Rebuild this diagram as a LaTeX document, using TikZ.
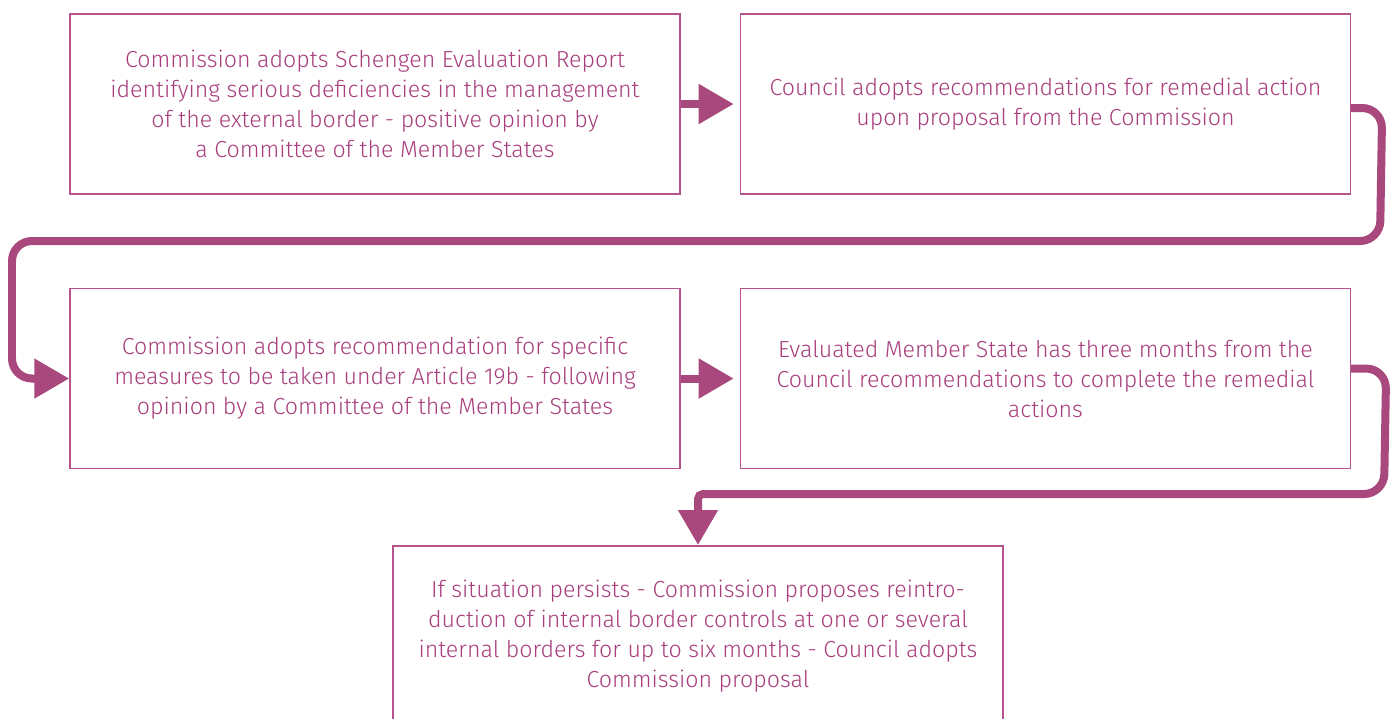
\documentclass[tikz,border=0pt]{standalone}
\usepackage{fontspec}
\setmainfont{Fira Sans Light}
\usepackage{tikz}
\usetikzlibrary{positioning, arrows.meta}
\definecolor{boxpink}{RGB}{182,84,142}
\definecolor{arrowpink}{RGB}{168,72,124}
\definecolor{textpink}{RGB}{168,62,124}

\begin{document}
\begin{tikzpicture}[
  x=0.02cm, y=-0.02cm,
  node distance=1.18cm,
  stepbox/.style={rectangle, draw=boxpink, line width=0.9pt, fill=white,
              minimum width=12.2cm, minimum height=3.6cm, text width=12cm,
              align=flush center, text=textpink, inner sep=0pt,
              font=\fontsize{13.2}{17.07}\selectfont},
  arr/.style={-{Triangle[length=0.7cm, width=0.76cm]}, line width=0.16cm,
              color=arrowpink},
]
  \useasboundingbox (0,0) rectangle (1391,718);

  \node[stepbox] (report) at (375,104)
    {Commission adopts Schengen Evaluation Report\\identifying serious deficiencies in the management\\of the external border - positive opinion by\\a Committee of the Member States};
  \node[stepbox, right=of report] (council)
    {Council adopts recommendations for remedial action\\upon proposal from the Commission};
  \node[stepbox, below=1.86cm of report] (measures)
    {Commission adopts recommendation for specific\\measures to be taken under Article 19b - following\\opinion by a Committee of the Member States};
  \node[stepbox, below=1.86cm of council] (months)
    {Evaluated Member State has three months from the\\Council recommendations to complete the remedial\\actions};
  \node[stepbox, anchor=north] (controls) at (698,545)
    {If situation persists - Commission proposes reintro-\\duction of internal border controls at one or several\\internal borders for up to six months - Council adopts\\Commission proposal};

  \draw[arr, shorten >=0.12cm] (report) -- (council);
  \draw[arr, rounded corners=0.4cm] ([yshift=-0.08cm]council.east) -- ++(31,0)
    -- (1380,241) -- (12,241) |- (measures.west);
  \draw[arr, shorten >=0.12cm] (measures) -- (months);
  \draw[arr, rounded corners=0.4cm] ([yshift=0.2cm]months.east) -- ++(35,0)
    -- (1384,494) [rounded corners=0.1cm] -- (698,494) -- (controls.north);
\end{tikzpicture}
\end{document}
